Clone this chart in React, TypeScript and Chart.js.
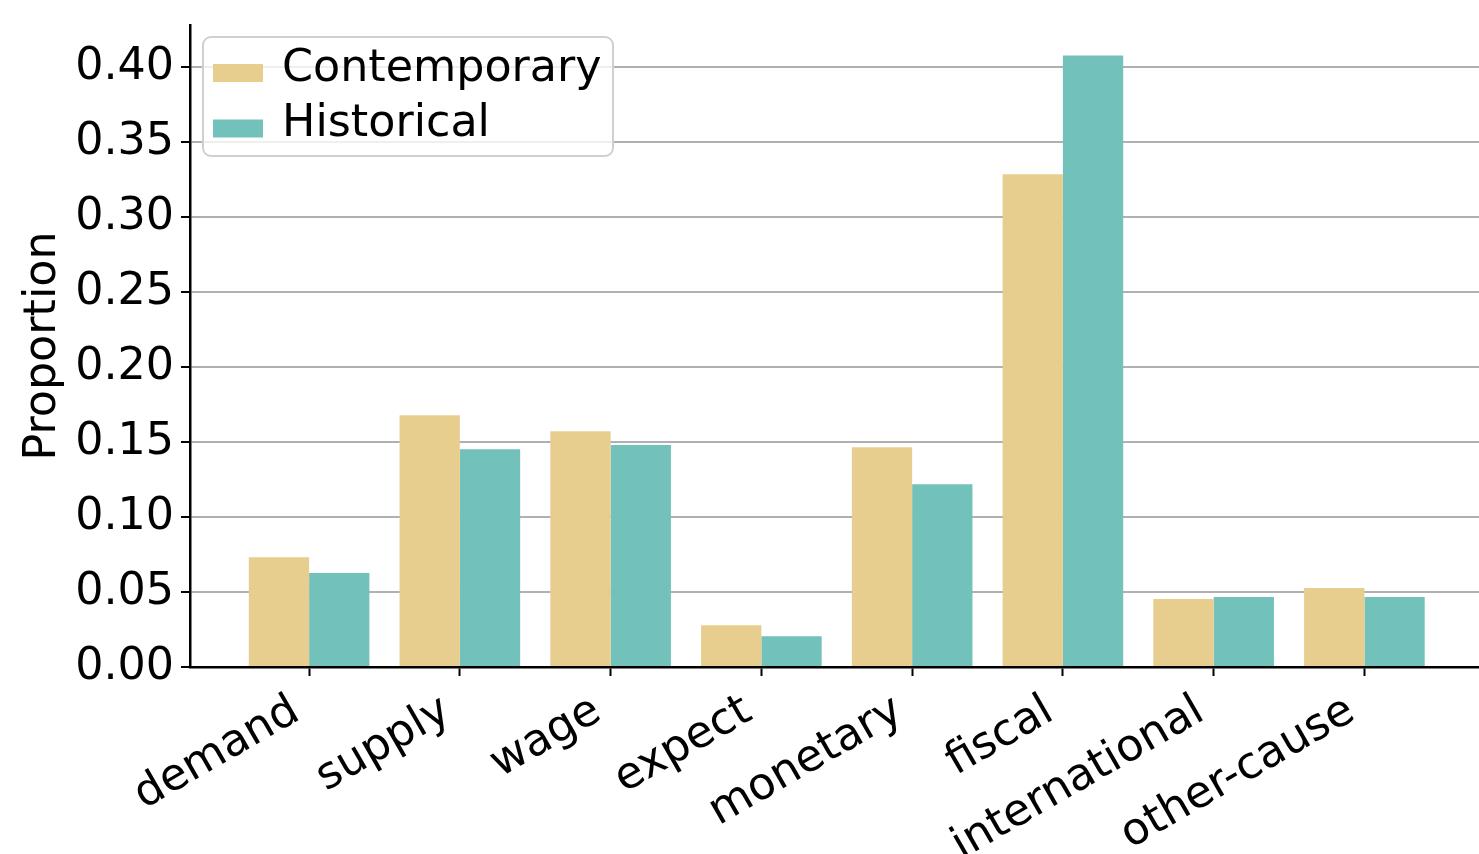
import React, { useEffect, useRef } from "react";
import { Chart, registerables } from "chart.js";

Chart.register(...registerables);

const categories = ["demand", "supply", "wage", "expect", "monetary", "fiscal", "international", "other-cause"];
const contemporary = [0.0733, 0.1679, 0.1572, 0.0278, 0.1466, 0.3287, 0.0453, 0.0527];
const historical = [0.0627, 0.1452, 0.1481, 0.0205, 0.1219, 0.408, 0.0467, 0.0467];
const seriesNames = ["Contemporary", "Historical"];
const seriesColors = ["#E8CE8E", "#72C2BB"];
const yTickValues = [0, 0.05, 0.1, 0.15, 0.2, 0.25, 0.3, 0.35, 0.4];
const yAxisTitle = "Proportion";

const FONT = "'DejaVu Sans', sans-serif";
const FS = 44.4;

const legendPlugin = {
  id: "boxLegend",
  afterDraw(chart: any) {
    const ctx = chart.ctx as CanvasRenderingContext2D;
    ctx.save();
    const x = 203, y = 37, w = 410, h = 119, r = 8;
    ctx.beginPath();
    if ((ctx as any).roundRect) {
      (ctx as any).roundRect(x, y, w, h, r);
    } else {
      ctx.rect(x, y, w, h);
    }
    ctx.fillStyle = "rgba(255,255,255,0.8)";
    ctx.fill();
    ctx.lineWidth = 2;
    ctx.strokeStyle = "#d0d0d0";
    ctx.stroke();
    ctx.font = `${FS}px ${FONT}`;
    ctx.textBaseline = "alphabetic";
    ctx.textAlign = "left";
    chart.data.datasets.forEach((ds: any, i: number) => {
      const step = 55.5;
      ctx.fillStyle = ds.backgroundColor;
      ctx.fillRect(213, 64 + i * step, 50, 18);
      ctx.fillStyle = "#000";
      ctx.fillText(ds.label, 282, 80.5 + i * step);
    });
    ctx.restore();
  },
};

export default function App() {
  const ref = useRef<HTMLCanvasElement | null>(null);

  useEffect(() => {
    const canvas = ref.current;
    if (!canvas) return;
    const series = [contemporary, historical];
    const chart = new Chart(canvas, {
      type: "bar",
      data: {
        datasets: series.map((vals, si) => ({
          label: seriesNames[si],
          data: categories.map((_, i) => ({ x: i, y: vals[i] })),
          backgroundColor: seriesColors[si],
          borderWidth: 0,
          categoryPercentage: 0.8,
          barPercentage: 1.0,
        })),
      },
      options: {
        responsive: false,
        animation: false,
        devicePixelRatio: 1,
        layout: { padding: { top: 25, left: 0, right: 0, bottom: 0 } },
        plugins: {
          legend: { display: false },
          tooltip: { enabled: false },
        },
        scales: {
          x: {
            type: "linear",
            min: -0.79,
            max: 7.76,
            offset: false,
            z: 2,
            afterBuildTicks: (s: any) => {
              s.ticks = categories.map((_, i) => ({ value: i }));
            },
            afterFit: (s: any) => {
              s.height = 187;
              s.paddingLeft = 0;
              s.paddingRight = 0;
            },
            grid: {
              offset: false,
              drawOnChartArea: false,
              drawTicks: true,
              tickLength: 9,
              tickWidth: 2,
              tickColor: "#000",
            },
            border: { display: true, color: "#000", width: 2.5 },
            ticks: {
              autoSkip: false,
              minRotation: 30,
              maxRotation: 30,
              padding: 9,
              labelOffset: -13,
              color: "#000",
              font: { family: FONT, size: FS },
              callback: (v: any) => categories[Number(v)] ?? "",
            },
          },
          y: {
            min: 0,
            max: 0.4283,
            z: 1,
            afterBuildTicks: (s: any) => {
              s.ticks = yTickValues.map((v) => ({ value: v }));
            },
            afterFit: (s: any) => {
              s.width = 190;
              s.paddingTop = 0;
              s.paddingBottom = 0;
            },
            grid: {
              color: "#b0b0b0",
              lineWidth: 2,
              drawTicks: true,
              tickLength: 9,
              tickWidth: 2,
              tickColor: "#000",
            },
            border: { display: true, color: "#000", width: 2.5 },
            ticks: {
              padding: 7,
              color: "#000",
              font: { family: FONT, size: FS },
              callback: (v: any) => Number(v).toFixed(2),
            },
            title: {
              display: true,
              text: yAxisTitle,
              color: "#000",
              font: { family: FONT, size: FS },
              padding: { top: 16.5, bottom: 0 },
            },
          },
        },
      } as any,
      plugins: [legendPlugin],
    });
    return () => chart.destroy();
  }, []);

  return (
    <div style={{ position: "fixed", left: 0, top: 0, width: 1479, height: 854, background: "#fff" }}>
      <canvas ref={ref} width={1479} height={854} style={{ width: 1479, height: 854, display: "block" }} />
    </div>
  );
}
